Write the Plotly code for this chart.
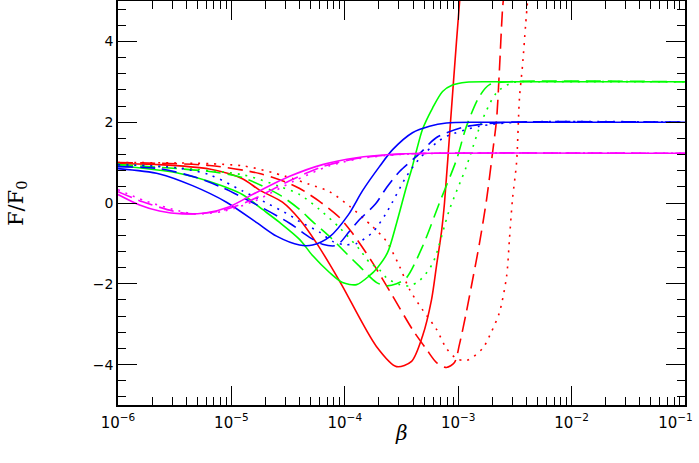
import plotly.graph_objects as go

# beta values and F/F0, one pair of lists per curve
red_solid_x = [1.0e-6, 2.3e-6, 6.4e-6, 1.25e-5, 1.77e-5, 2.82e-5, 4.0e-5, 5.6e-5, 7.3e-5, 9.5e-5,
               1.9e-4, 2.86e-4, 3.88e-4, 4.84e-4, 5.82e-4, 6.44e-4, 7.13e-4, 7.57e-4, 8.55e-4, 9.66e-4, 1.05e-3]
red_solid_y = [0.97, 0.95, 0.84, 0.6, 0.32, 0.02, -0.41, -0.98, -1.5, -2.05,
               -3.55, -4.05, -3.92, -3.3, -2.39, -1.55, -0.7, 0.0, 2.0, 4.0, 5.3]

red_dashed_x = [1.0e-6, 6.4e-6, 1.77e-5, 3.26e-5, 4.0e-5, 5.98e-5, 8.98e-5, 1.17e-4, 1.75e-4, 2.64e-4,
                3.95e-4, 5.25e-4, 6.44e-4, 7.88e-4, 9.27e-4, 1.026e-3, 1.18e-3, 1.34e-3, 1.54e-3, 1.78e-3,
                2.01e-3, 2.18e-3, 2.31e-3, 2.46e-3, 2.56e-3]
red_dashed_y = [1.0, 0.93, 0.73, 0.48, 0.36, 0.04, -0.36, -0.75, -1.47, -2.3,
                -3.13, -3.62, -3.95, -4.07, -3.95, -3.5, -2.7, -1.9, -1.0, 0.09,
                1.25, 2.07, 3.3, 4.8, 5.3]

red_dotted_x = [1.0e-6, 1.25e-5, 3.0e-5, 4.89e-5, 7.33e-5, 1.10e-4, 1.75e-4, 2.33e-4, 3.04e-4, 3.72e-4,
                4.84e-4, 6.44e-4, 7.88e-4, 9.66e-4, 1.18e-3, 1.64e-3, 1.97e-3, 2.31e-3, 2.67e-3, 2.83e-3,
                3.01e-3, 3.27e-3, 3.47e-3, 3.69e-3, 3.93e-3, 4.17e-3]
red_dotted_y = [1.0, 0.92, 0.66, 0.46, 0.28, -0.08, -0.58, -0.95, -1.57, -2.14,
                -2.64, -3.13, -3.6, -3.85, -3.9, -3.6, -3.18, -2.71, -1.82, -0.9,
                0.09, 1.0, 2.6, 3.4, 4.4, 5.3]

green_solid_x = [1.0e-6, 3.28e-6, 6.41e-6, 1.25e-5, 1.88e-5, 2.66e-5, 3.99e-5, 5.2e-5, 7.33e-5, 9.55e-5,
                 1.27e-4, 1.65e-4, 1.94e-4, 2.38e-4, 2.86e-4, 3.50e-4, 3.88e-4, 4.29e-4, 4.84e-4, 5.94e-4,
                 7.28e-4, 8.91e-4, 1.18e-3, 2.31e-3, 0.1]
green_solid_y = [0.93, 0.75, 0.53, 0.21, -0.16, -0.48, -0.9, -1.3, -1.72, -1.97,
                 -2.02, -1.8, -1.6, -1.23, -0.5, 0.41, 0.83, 1.3, 1.82, 2.35,
                 2.76, 2.92, 2.99, 3.0, 3.0]

green_dashed_x = [1.0e-6, 6.41e-6, 1.25e-5, 2.66e-5, 3.99e-5, 5.2e-5, 7.33e-5, 1.035e-4, 1.35e-4, 1.91e-4,
                  2.33e-4, 2.86e-4, 3.50e-4, 4.84e-4, 6.85e-4, 9.66e-4, 1.18e-3, 1.54e-3, 1.89e-3, 2.83e-3, 0.1]
green_dashed_y = [0.95, 0.78, 0.63, 0.2, -0.16, -0.46, -0.83, -1.25, -1.57, -1.97,
                  -2.05, -2.0, -1.85, -1.08, 0.01, 1.07, 1.89, 2.64, 2.93, 3.0, 3.0]

green_dotted_x = [1.0e-6, 1.25e-5, 2.66e-5, 3.99e-5, 5.98e-5, 8.98e-5, 1.35e-4, 1.65e-4, 2.02e-4, 2.33e-4,
                  3.04e-4, 3.72e-4, 4.56e-4, 5.94e-4, 8.38e-4, 1.18e-3, 1.64e-3, 2.18e-3, 3.01e-3, 5.21e-3, 0.1]
green_dotted_y = [0.97, 0.7, 0.41, 0.21, -0.16, -0.61, -1.15, -1.47, -1.65, -1.85,
                  -2.02, -2.05, -1.92, -1.5, -0.16, 0.9, 2.07, 2.73, 2.98, 3.0, 3.0]

blue_solid_x = [1.0e-6, 2.32e-6, 4.54e-6, 9.05e-6, 1.70e-5, 2.50e-5, 3.99e-5, 5.2e-5, 7.33e-5, 1.07e-4,
                1.43e-4, 2.02e-4, 2.64e-4, 3.95e-4, 5.58e-4, 7.88e-4, 1.54e-3, 0.1]
blue_solid_y = [0.85, 0.72, 0.43, 0.02, -0.5, -0.82, -1.04, -1.04, -0.84, -0.3,
                0.3, 0.9, 1.32, 1.74, 1.9, 1.98, 2.0, 2.0]

blue_dashed_x = [1.0e-6, 2.32e-6, 4.92e-6, 8.34e-6, 1.66e-5, 3.26e-5, 4.89e-5, 6.36e-5, 8.45e-5, 1.10e-4,
                 1.35e-4, 1.87e-4, 2.33e-4, 3.04e-4, 4.56e-4, 6.44e-4, 1.09e-3, 1.54e-3, 2.83e-3, 0.1]
blue_dashed_y = [0.9, 0.85, 0.63, 0.38, -0.04, -0.5, -0.85, -1.02, -1.05, -0.7,
                 -0.41, -0.02, 0.38, 0.78, 1.22, 1.62, 1.87, 1.94, 2.0, 2.0]

blue_dotted_x = [1.0e-6, 3.28e-6, 6.41e-6, 1.25e-5, 1.77e-5, 3.26e-5, 3.99e-5, 5.98e-5, 7.8e-5, 9.94e-5,
                 1.27e-4, 1.75e-4, 2.33e-4, 3.50e-4, 4.56e-4, 6.44e-4, 7.88e-4, 1.54e-3, 3.47e-3, 0.1]
blue_dotted_y = [0.95, 0.87, 0.7, 0.3, 0.09, -0.3, -0.46, -0.72, -0.95, -1.03,
                 -1.0, -0.73, -0.24, 0.66, 1.1, 1.49, 1.65, 1.9, 2.0, 2.0]

magenta_solid_x = [1.0e-6, 1.55e-6, 2.32e-6, 3.71e-6, 6.03e-6, 9.62e-6, 1.66e-5, 3.26e-5, 6.36e-5, 1.27e-4,
                   2.48e-4, 5.58e-4, 0.1]
magenta_solid_y = [0.21, -0.05, -0.2, -0.27, -0.24, -0.09, 0.26, 0.66, 0.95, 1.12,
                   1.2, 1.23, 1.23]

magenta_dashed_x = [1.0e-6, 1.65e-6, 3.28e-6, 4.54e-6, 7.85e-6, 1.44e-5, 3.26e-5, 6.36e-5, 1.27e-4, 2.48e-4,
                    5.58e-4, 0.1]
magenta_dashed_y = [0.28, 0.03, -0.22, -0.27, -0.2, 0.05, 0.55, 0.9, 1.1, 1.19,
                    1.23, 1.23]

magenta_dotted_x = [1.0e-6, 1.71e-6, 3.49e-6, 4.92e-6, 8.68e-6, 1.60e-5, 3.61e-5, 7.33e-5, 1.35e-4, 3.04e-4,
                    6.85e-4, 0.1]
magenta_dotted_y = [0.33, 0.06, -0.2, -0.27, -0.2, 0.05, 0.55, 0.92, 1.1, 1.2,
                    1.23, 1.23]

x_ticks = [1e-6, 1e-5, 1e-4, 1e-3, 1e-2, 1e-1]
# the last label is padded so it stays inside the page, as in the original
x_ticklabels = ['10<sup>−6</sup>', '10<sup>−5</sup>', '10<sup>−4</sup>',
                '10<sup>−3</sup>', '10<sup>−2</sup>', '10<sup>−1</sup>\u00a0\u00a0\u00a0\u00a0']
y_ticks = [-4, -2, 0, 2, 4]
y_ticklabels = ['−4', '−2', '0', '2', '4']

RED = '#FF0000'
GREEN = '#00FF00'
BLUE = '#0000FF'
MAGENTA = '#FF00FF'

DASHES = {
    'solid': 'solid',
    'dashed': '15px,7px',
    'dotted': '2px,6px',
}

curves = [
    (red_solid_x, red_solid_y, RED, 'solid'),
    (red_dashed_x, red_dashed_y, RED, 'dashed'),
    (red_dotted_x, red_dotted_y, RED, 'dotted'),
    (green_solid_x, green_solid_y, GREEN, 'solid'),
    (green_dashed_x, green_dashed_y, GREEN, 'dashed'),
    (green_dotted_x, green_dotted_y, GREEN, 'dotted'),
    (blue_solid_x, blue_solid_y, BLUE, 'solid'),
    (blue_dashed_x, blue_dashed_y, BLUE, 'dashed'),
    (blue_dotted_x, blue_dotted_y, BLUE, 'dotted'),
    (magenta_solid_x, magenta_solid_y, MAGENTA, 'solid'),
    (magenta_dashed_x, magenta_dashed_y, MAGENTA, 'dashed'),
    (magenta_dotted_x, magenta_dotted_y, MAGENTA, 'dotted'),
]

fig = go.Figure()

for xs, ys, color, style in curves:
    fig.add_trace(go.Scatter(
        x=xs,
        y=ys,
        mode='lines',
        line=dict(color=color, width=1.6, dash=DASHES[style], shape='spline', smoothing=0.8),
        showlegend=False,
        hoverinfo='skip'
    ))

fig.update_xaxes(
    type='log',
    range=[-6, -1],
    tickmode='array',
    tickvals=x_ticks,
    ticktext=x_ticklabels,
    ticks='inside',
    ticklen=19,
    tickwidth=1.3,
    tickcolor='black',
    ticklabeloverflow='allow',
    ticklabelstandoff=3,
    minor=dict(ticks='inside', ticklen=8, tickwidth=1.1, tickcolor='black', dtick='D1'),
    showline=True,
    linecolor='black',
    linewidth=1.5,
    mirror='allticks',
    showgrid=False,
    zeroline=False,
    automargin=False,
    tickfont=dict(family='DejaVu Sans', size=15, color='black')
)

fig.update_yaxes(
    range=[-5, 5],
    tickmode='array',
    tickvals=y_ticks,
    ticktext=y_ticklabels,
    ticks='inside',
    ticklen=19,
    tickwidth=1.3,
    tickcolor='black',
    minor=dict(ticks='inside', ticklen=8, tickwidth=1.1, tickcolor='black', dtick=0.4, tick0=0),
    showline=True,
    linecolor='black',
    linewidth=1.5,
    mirror='allticks',
    showgrid=False,
    zeroline=False,
    automargin=False,
    tickfont=dict(family='DejaVu Sans', size=14, color='black')
)

# axis titles placed as annotations so they sit where the reference has them
fig.add_annotation(
    text='<i>β</i>', xref='paper', yref='paper', x=0.5, y=-0.069,
    xanchor='center', yanchor='middle', showarrow=False,
    font=dict(family='DejaVu Serif', size=20, color='black')
)
fig.add_annotation(
    text='F/F<sub>0</sub>', xref='paper', yref='paper', x=-0.178, y=0.5,
    xanchor='center', yanchor='middle', textangle=-90, showarrow=False,
    font=dict(family='DejaVu Serif', size=21, color='black')
)

fig.update_layout(
    width=699,
    height=463,
    margin=dict(l=118, r=14, t=1, b=58),
    paper_bgcolor='white',
    plot_bgcolor='white',
    showlegend=False
)

fig.write_html("out.html", config={'displayModeBar': False},
               post_script="document.body.style.margin='0';")
